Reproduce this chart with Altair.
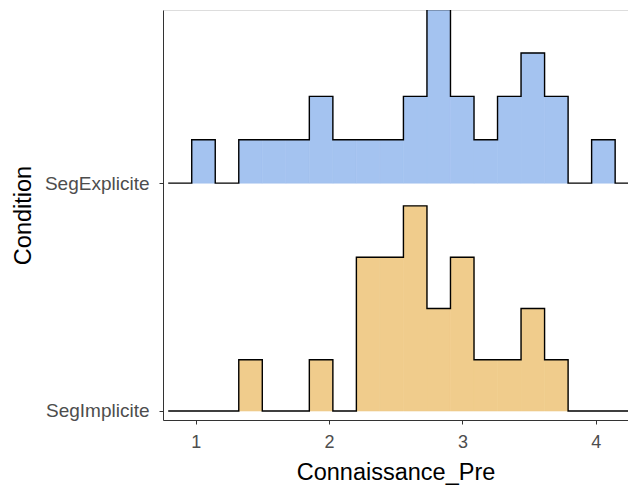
import altair as alt
import pandas as pd

# --- data ---
conditions = ["SegExplicite", "SegImplicite"]
bin_start = 0.794
bin_width = 0.1764
explicit_counts = [0, 1, 0, 1, 1, 1, 2, 1, 1, 1, 2, 4, 2, 1, 2, 3, 2, 0, 1, 0]
implicit_counts = [0, 0, 0, 1, 0, 0, 1, 0, 3, 3, 4, 2, 3, 1, 1, 2, 1, 0, 0, 0]
x_ticks = [1, 2, 3, 4]
fills = ["#A4C3F0", "#F0CC8C"]
baselines = [1.0, 0.0]

groups = dict(zip(conditions, zip([explicit_counts, implicit_counts], baselines)))

dens_max = max(max(c) / (sum(c) * bin_width) for c, _ in groups.values())
ridge_scale = 0.9 / dens_max

step_rows, bar_rows = [], []
for name, (counts, base) in groups.items():
    n = sum(counts)
    seq = 0
    for i, c in enumerate(counts):
        h = base + c / (n * bin_width) * ridge_scale
        left = bin_start + i * bin_width
        right = left + bin_width
        if c > 0:
            bar_rows.append({"cond": name, "x": left, "x2": right, "y": h, "base": base})
        for e in (left, right):
            step_rows.append({"cond": name, "x": e, "y": h, "seq": seq})
            seq += 1
steps = pd.DataFrame(step_rows)
bars = pd.DataFrame(bar_rows)

FONT = "Liberation Sans"
xs = alt.Scale(domain=[0.755, 4.242], nice=False, zero=False)
ys = alt.Scale(domain=[-0.0395, 1.7598], nice=False, zero=False)

x_enc = alt.X("x:Q", scale=xs, title="Connaissance_Pre",
              axis=alt.Axis(values=x_ticks, format="d", grid=False, tickSize=4,
                            labelPadding=9, titlePadding=9, labelFontSize=18,
                            titleFontSize=23.5, labelColor="#4D4D4D", titleColor="#000000",
                            titleFontWeight="normal", domainColor="#333333",
                            tickColor="#333333", labelFont=FONT, titleFont=FONT))
y_enc = alt.Y("y:Q", scale=ys, title="Condition",
              axis=alt.Axis(values=[0, 1], grid=False, tickSize=4, labelPadding=10,
                            labelExpr="datum.value == 1 ? 'SegExplicite' : 'SegImplicite'",
                            titlePadding=9, labelFontSize=19, titleFontSize=23.5,
                            labelColor="#4D4D4D", titleColor="#000000",
                            titleFontWeight="normal", domainColor="#333333",
                            tickColor="#333333", labelFont=FONT, titleFont=FONT))

color = alt.Color("cond:N", scale=alt.Scale(domain=conditions, range=fills), legend=None)

fill = alt.Chart(bars).mark_rect(clip=True, strokeWidth=0.6).encode(
    x=x_enc, x2="x2:Q", y=y_enc, y2="base:Q", color=color, stroke=color)
line = alt.Chart(steps).mark_line(clip=True, color="black", strokeWidth=1.4).encode(
    x=alt.X("x:Q", scale=xs), y=alt.Y("y:Q", scale=ys), order="seq:Q", detail="cond:N")

chart = (fill + line).properties(
    width=465, height=410,
    autosize=alt.AutoSizeParams(type="none"),
    padding={"left": 155, "top": 2, "right": 0, "bottom": 67},
).configure_view(stroke=None).configure(background="white")

chart.save("out.html", embed_options={"renderer": "svg", "actions": False})
